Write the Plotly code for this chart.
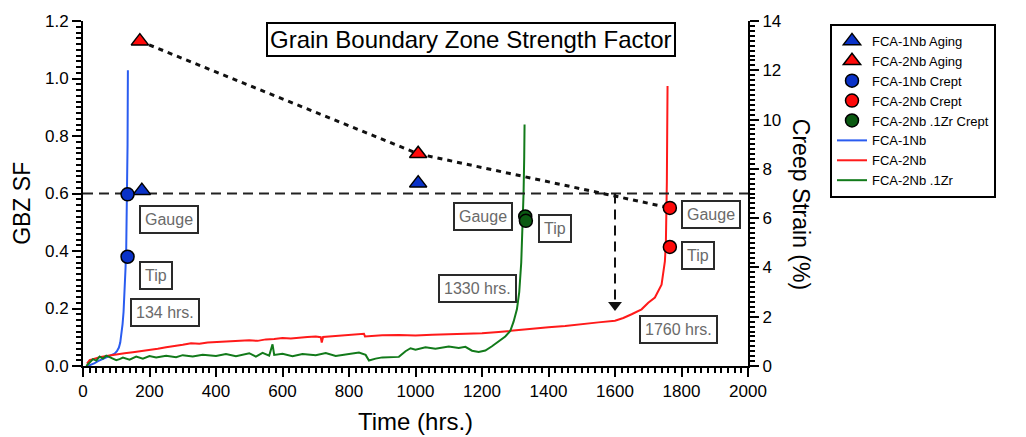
import plotly.graph_objects as go

FONT = "Liberation Sans, Arial, sans-serif"

# ---------------- data ----------------
# GBZ strength factor (left axis)
aging_1nb_t = [177, 1008]
aging_1nb_sf = [0.61, 0.636]
aging_2nb_t = [171, 1008]
aging_2nb_sf = [1.13, 0.738]
crept_1nb_t = [134, 134]
crept_1nb_sf = [0.597, 0.38]
crept_2nb_t = [1765, 1765]
crept_2nb_sf = [0.55, 0.414]
crept_zr_t = [1330, 1332]
crept_zr_sf = [0.52, 0.505]

# trend line connecting FCA-2Nb aging points to crept gauge value
trend_t = [171, 1008, 1765]
trend_sf = [1.13, 0.738, 0.55]

# threshold line and arrow
threshold_t = [0, 2000]
threshold_sf = [0.6, 0.6]
arrow_t = [1600, 1600]
arrow_sf = [0.6, 0.225]
arrowhead_t = [1600]
arrowhead_sf = [0.212]

# creep curves (right axis, %)
nb1_t = [15, 25, 35, 45, 55, 65, 75, 85, 95, 102, 108, 112, 116, 119, 122, 124,
         126, 128, 130, 131, 132, 133, 134, 134.5, 135]
nb1_s = [0.0, 0.05, 0.12, 0.2, 0.26, 0.3, 0.35, 0.42, 0.5, 0.6, 0.75, 0.95, 1.3,
         1.7, 2.2, 2.7, 3.3, 4.0, 4.8, 5.5, 6.4, 7.5, 9.0, 10.5, 12.0]

nb2_t = [12, 20, 35, 50, 75, 100, 125, 150, 175, 200, 225, 250, 275, 300, 325, 350,
         375, 400, 425, 450, 475, 500, 525, 550, 575, 600, 625, 650, 675, 700, 715,
         718, 722, 740, 770, 800, 830, 845, 848, 870, 900, 950, 1000, 1050, 1100,
         1150, 1200, 1250, 1300, 1350, 1400, 1450, 1500, 1550, 1600, 1625, 1650,
         1680, 1700, 1720, 1740, 1750, 1753, 1755, 1756, 1757, 1758]
nb2_s = [0.1, 0.24, 0.3, 0.36, 0.42, 0.48, 0.52, 0.56, 0.6, 0.64, 0.7, 0.76, 0.8,
         0.86, 0.92, 0.9, 0.95, 0.97, 0.96, 1.0, 1.02, 1.04, 1.02, 1.08, 1.1, 1.14,
         1.12, 1.16, 1.18, 1.2, 1.17, 0.95, 1.18, 1.2, 1.24, 1.27, 1.3, 1.31, 1.2,
         1.23, 1.25, 1.26, 1.24, 1.27, 1.28, 1.3, 1.33, 1.38, 1.45, 1.5, 1.57, 1.62,
         1.71, 1.77, 1.84, 1.95, 2.1, 2.3, 2.57, 2.78, 3.3, 4.24, 5.0, 6.0, 7.5,
         9.5, 11.36]

zr_t = [10, 20, 30, 40, 50, 60, 70, 80, 90, 100, 110, 120, 140, 160, 180, 200, 220,
        250, 280, 300, 330, 360, 400, 430, 460, 500, 520, 540, 560, 570, 575, 600,
        630, 660, 700, 730, 760, 800, 830, 850, 860, 880, 900, 950, 970, 985, 1000,
        1030, 1060, 1100, 1130, 1150, 1170, 1190, 1210, 1230, 1250, 1270, 1285,
        1295, 1305, 1312, 1318, 1322, 1325, 1327, 1328]
zr_s = [0.0, 0.12, 0.28, 0.22, 0.38, 0.3, 0.42, 0.36, 0.3, 0.24, 0.28, 0.34, 0.26,
        0.38, 0.3, 0.4, 0.35, 0.42, 0.36, 0.44, 0.39, 0.46, 0.41, 0.49, 0.4, 0.52,
        0.38, 0.53, 0.42, 0.88, 0.45, 0.5, 0.4, 0.49, 0.44, 0.53, 0.41, 0.5, 0.55,
        0.45, 0.22, 0.3, 0.35, 0.37, 0.6, 0.72, 0.66, 0.76, 0.7, 0.79, 0.73, 0.78,
        0.62, 0.57, 0.63, 0.8, 1.0, 1.2, 1.42, 1.8, 2.3, 3.0, 4.2, 5.5, 7.0, 8.5,
        9.8]

# label boxes
label_text = ["Gauge", "Tip", "134 hrs.", "Gauge", "Tip", "1330 hrs.", "Gauge", "Tip",
              "1760 hrs."]
label_t = [259, 220, 247, 1203, 1420, 1185, 1889, 1850, 1792]
label_sf = [0.509, 0.315, 0.185, 0.52, 0.479, 0.27, 0.526, 0.383, 0.126]

title_text = "Grain Boundary Zone Strength Factor"
title_t = 1167
title_sf = 1.137

x_ticks = list(range(0, 2001, 200))
sf_ticks = [0.0, 0.2, 0.4, 0.6, 0.8, 1.0, 1.2]
strain_ticks = list(range(0, 15, 2))

# ---------------- colours ----------------
BLUE_M = "#0a32c8"
RED_M = "#ff0a0a"
GREEN_M = "#0b5a12"
BLUE_L = "#2a5cf0"
RED_L = "#ff1a1a"
GREEN_L = "#127a1a"

fig = go.Figure()

def mk(sym, color, size):
    return dict(symbol=sym, color=color, size=size, line=dict(color="black", width=1.5))

# creep curves on 'y' (right axis) -> drawn underneath; GBZ on 'y2' overlay (left axis)
fig.add_trace(go.Scatter(x=threshold_t, y=threshold_sf, yaxis="y2", mode="lines",
                         line=dict(color="#222", width=2, dash="10px,6px"),
                         showlegend=False, hoverinfo="skip"))
fig.add_trace(go.Scatter(x=trend_t, y=trend_sf, yaxis="y2", mode="lines",
                         line=dict(color="#111", width=3, dash="5px,5px"),
                         showlegend=False, hoverinfo="skip"))
fig.add_trace(go.Scatter(x=arrow_t, y=arrow_sf, yaxis="y2", mode="lines",
                         line=dict(color="#111", width=2, dash="10px,6px"),
                         showlegend=False, hoverinfo="skip"))
fig.add_trace(go.Scatter(x=arrowhead_t, y=arrowhead_sf, yaxis="y2", mode="markers",
                         marker=dict(symbol="triangle-down", size=12, color="#111"),
                         showlegend=False, hoverinfo="skip"))

fig.add_trace(go.Scatter(x=aging_1nb_t, y=aging_1nb_sf, yaxis="y2", mode="markers",
                         name="FCA-1Nb Aging", marker=mk("triangle-up", BLUE_M, 15)))
fig.add_trace(go.Scatter(x=aging_2nb_t, y=aging_2nb_sf, yaxis="y2", mode="markers",
                         name="FCA-2Nb Aging", marker=mk("triangle-up", RED_M, 15)))
fig.add_trace(go.Scatter(x=crept_1nb_t, y=crept_1nb_sf, yaxis="y2", mode="markers",
                         name="FCA-1Nb Crept", marker=mk("circle", BLUE_M, 13)))
fig.add_trace(go.Scatter(x=crept_2nb_t, y=crept_2nb_sf, yaxis="y2", mode="markers",
                         name="FCA-2Nb Crept", marker=mk("circle", RED_M, 13)))
fig.add_trace(go.Scatter(x=crept_zr_t, y=crept_zr_sf, yaxis="y2", mode="markers",
                         name="FCA-2Nb .1Zr Crept", marker=mk("circle", GREEN_M, 13)))

fig.add_trace(go.Scatter(x=nb1_t, y=nb1_s, yaxis="y", mode="lines", name="FCA-1Nb",
                         line=dict(color=BLUE_L, width=2)))
fig.add_trace(go.Scatter(x=nb2_t, y=nb2_s, yaxis="y", mode="lines", name="FCA-2Nb",
                         line=dict(color=RED_L, width=2)))
fig.add_trace(go.Scatter(x=zr_t, y=zr_s, yaxis="y", mode="lines", name="FCA-2Nb .1Zr",
                         line=dict(color=GREEN_L, width=2)))

axis_common = dict(showline=True, linecolor="black", linewidth=2, ticks="outside",
                   tickcolor="black", tickwidth=2, ticklen=9, showgrid=False,
                   zeroline=False, tickfont=dict(family=FONT, size=17, color="black"))

fig.update_layout(
    width=1026, height=437,
    margin=dict(l=83, r=278, t=15, b=71),
    paper_bgcolor="white", plot_bgcolor="white",
    font=dict(family=FONT, color="black"),
    xaxis=dict(range=[0, 2000], tickvals=x_ticks,
               minor=dict(dtick=20, ticks="outside", ticklen=5, tickwidth=1.5,
                          tickcolor="black"),
               **axis_common),
    yaxis=dict(range=[0, 14], tickvals=strain_ticks, side="right",
               minor=dict(dtick=0.2, ticks="outside", ticklen=5, tickwidth=1.5,
                          tickcolor="black"),
               **axis_common),
    yaxis2=dict(range=[0, 1.2], tickvals=sf_ticks, tickformat=".1f", side="left",
                overlaying="y",
                minor=dict(dtick=0.02, ticks="outside", ticklen=5, tickwidth=1.5,
                           tickcolor="black"),
                **axis_common),
    legend=dict(x=1.1233, y=0.9915, xanchor="left", yanchor="top",
                bordercolor="black", borderwidth=2, bgcolor="white",
                font=dict(family=FONT, size=13, color="black"),
                traceorder="normal", itemwidth=30),
    showlegend=True,
)

annotations = []
for txt, tx, ty in zip(label_text, label_t, label_sf):
    annotations.append(dict(x=tx, y=ty, xref="x", yref="y2", text=txt, showarrow=False,
                            xanchor="center", yanchor="middle",
                            font=dict(family=FONT, size=16, color="#6a6a6a"),
                            bordercolor="#2a2a2a", borderwidth=2, borderpad=4,
                            bgcolor="white"))
annotations.append(dict(x=title_t, y=title_sf, xref="x", yref="y2", text=title_text,
                        showarrow=False, xanchor="center", yanchor="middle",
                        font=dict(family=FONT, size=24, color="black"),
                        bordercolor="black", borderwidth=2, borderpad=2, bgcolor="white"))
annotations.append(dict(x=0.5, y=-0.162, xref="paper", yref="paper", text="Time (hrs.)",
                        xanchor="center", yanchor="middle", showarrow=False,
                        font=dict(family=FONT, size=24, color="black")))
annotations.append(dict(x=-0.0917, y=0.47, xref="paper", yref="paper", text="GBZ SF",
                        xanchor="center", yanchor="middle", textangle=-90,
                        showarrow=False, font=dict(family=FONT, size=23, color="black")))
annotations.append(dict(x=1.0797, y=0.47, xref="paper", yref="paper",
                        text="Creep Strain (%)", xanchor="center", yanchor="middle",
                        textangle=90, showarrow=False,
                        font=dict(family=FONT, size=23, color="black")))
fig.update_layout(annotations=annotations)

fig.write_html("out.html")
